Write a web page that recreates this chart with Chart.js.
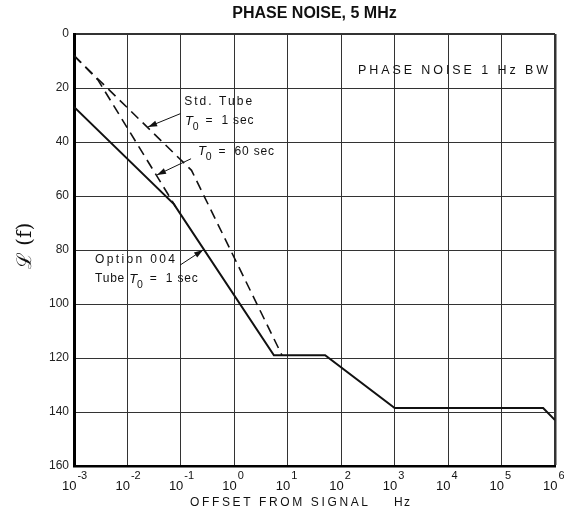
<!DOCTYPE html>
<html>
<head>
<meta charset="utf-8">
<script src="https://cdn.jsdelivr.net/npm/chart.js@4"></script>
<style>
  html, body { margin: 0; padding: 0; background: #fff; }
</style>
</head>
<body>
<canvas id="phaseChart" width="564" height="519"></canvas>
<script>
// decade ticks on the offset axis, 20 dB steps on the noise axis
const xTicks = [1e-3, 1e-2, 1e-1, 1, 10, 100, 1e3, 1e4, 1e5, 1e6];
const yTicks = [0, 20, 40, 60, 80, 100, 120, 140, 160];

// Option 004 tube, T0 = 1 sec (solid)
const optFreq = [0.001, 0.074, 5.5, 50, 1000, 600000, 1000000];
const optNoise = [27, 63, 119, 119, 138.5, 138.5, 143];

// Std. tube, T0 = 1 sec (dashed, upper)
const stdFreq = [0.001, 0.158, 7.8];
const stdNoise = [8, 50.5, 119];

// T0 = 60 sec (dashed, lower)
const t60Freq = [0.001, 0.0028, 0.034, 0.08];
const t60Noise = [8, 17, 52, 64];

const toPoints = (xs, ys) => xs.map((v, i) => ({ x: v, y: ys[i] }));

const FONT = '"Liberation Sans", Arial, sans-serif';

// text whose letters are spread out to cover a given width
function spreadText(ctx, str, x, y, width) {
  ctx.letterSpacing = '0px';
  const natural = ctx.measureText(str).width;
  const gap = Math.max(0, (width - natural) / (str.length - 1));
  ctx.letterSpacing = gap + 'px';
  ctx.textAlign = 'left';
  ctx.fillText(str, x, y);
  ctx.letterSpacing = '0px';
}

// optional prefix, italic "T" with subscript 0, then the rest
function tauText(ctx, x, y, before, after) {
  ctx.textAlign = 'left';
  ctx.textBaseline = 'middle';
  ctx.letterSpacing = '0.8px';
  ctx.font = '12px ' + FONT;
  ctx.fillText(before, x, y);
  x += ctx.measureText(before).width;
  ctx.font = 'italic 13px ' + FONT;
  ctx.fillText('T', x, y);
  x += ctx.measureText('T').width - 1;
  ctx.font = '10.5px ' + FONT;
  ctx.fillText('0', x, y + 6);
  x += ctx.measureText('0').width + 2;
  ctx.font = '12px ' + FONT;
  ctx.fillText(after, x, y);
  ctx.letterSpacing = '0px';
}

function arrow(ctx, x1, y1, x2, y2) {
  ctx.beginPath();
  ctx.moveTo(x1, y1);
  ctx.lineTo(x2, y2);
  ctx.stroke();
  const a = Math.atan2(y2 - y1, x2 - x1);
  const len = 9, half = 3;
  ctx.beginPath();
  ctx.moveTo(x2, y2);
  ctx.lineTo(x2 - len * Math.cos(a) + half * Math.sin(a), y2 - len * Math.sin(a) - half * Math.cos(a));
  ctx.lineTo(x2 - len * Math.cos(a) - half * Math.sin(a), y2 - len * Math.sin(a) + half * Math.cos(a));
  ctx.closePath();
  ctx.fill();
}

const labelsPlugin = {
  id: 'phaseLabels',
  afterDraw(chart) {
    const { ctx, chartArea, scales } = chart;
    const sx = v => scales.x.getPixelForValue(v);
    const sy = v => scales.y.getPixelForValue(v);
    ctx.save();
    ctx.fillStyle = '#111';
    ctx.strokeStyle = '#111';

    // title
    ctx.font = 'bold 16px ' + FONT;
    ctx.textBaseline = 'middle';
    ctx.textAlign = 'center';
    ctx.fillText('PHASE NOISE, 5 MHz', (chartArea.left + chartArea.right) / 2, 14);

    // x tick labels with superscript exponents
    xTicks.forEach(v => {
      const exp = String(Math.round(Math.log10(v)));
      const left = sx(v) - 12;
      ctx.textAlign = 'left';
      ctx.textBaseline = 'alphabetic';
      ctx.font = '13px ' + FONT;
      ctx.fillText('10', left, 490);
      const wBase = ctx.measureText('10').width;
      ctx.font = '11px ' + FONT;
      ctx.fillText(exp, left + wBase + 1, 479);
    });

    // x axis title
    ctx.font = '12px ' + FONT;
    ctx.textBaseline = 'middle';
    spreadText(ctx, 'OFFSET FROM SIGNAL', 190, 503, 178);
    spreadText(ctx, 'Hz', 394, 503, 16);

    // y axis title
    ctx.save();
    ctx.translate(26, 246);
    ctx.rotate(-Math.PI / 2);
    ctx.textAlign = 'center';
    ctx.font = '20px "DejaVu Serif", serif';
    ctx.fillText('\u2112 (f)', 0, 0);
    ctx.restore();

    // bandwidth note
    ctx.font = '12.5px ' + FONT;
    ctx.textBaseline = 'middle';
    spreadText(ctx, 'PHASE NOISE 1 Hz BW', sx(7.4e5) - 190, sy(13.7), 190);

    // curve annotations
    ctx.font = '12px ' + FONT;
    ctx.textBaseline = 'middle';
    spreadText(ctx, 'Std. Tube', sx(0.115), sy(25.2), 68);
    tauText(ctx, sx(0.119), sy(32.2), '', ' =  1 sec');
    tauText(ctx, sx(0.209), sy(43.5), '', ' =  60 sec');
    ctx.font = '12px ' + FONT;
    spreadText(ctx, 'Option 004', sx(0.00247), sy(83.5), 80);
    tauText(ctx, sx(0.00247), sy(90.8), 'Tube ', ' =  1 sec');

    ctx.lineWidth = 1;
    arrow(ctx, sx(0.098), sy(29.5), sx(0.0243), sy(34.4));
    arrow(ctx, sx(0.155), sy(46.2), sx(0.0357), sy(52.2));
    arrow(ctx, sx(0.0964), sy(85.6), sx(0.26), sy(80));
    ctx.restore();
  }
};

new Chart(document.getElementById('phaseChart'), {
  type: 'line',
  data: {
    datasets: [
      {
        label: 'Option 004 Tube T0 = 1 sec',
        data: toPoints(optFreq, optNoise),
        borderColor: '#111',
        borderWidth: 2,
        pointRadius: 0,
        tension: 0
      },
      {
        label: 'Std. Tube T0 = 1 sec',
        data: toPoints(stdFreq, stdNoise),
        borderColor: '#111',
        borderWidth: 1.6,
        borderDash: [10, 6],
        pointRadius: 0,
        tension: 0
      },
      {
        label: 'T0 = 60 sec',
        data: toPoints(t60Freq, t60Noise),
        borderColor: '#111',
        borderWidth: 1.6,
        borderDash: [10, 6],
        pointRadius: 0,
        tension: 0
      }
    ]
  },
  options: {
    responsive: false,
    animation: false,
    layout: { padding: { top: 34, right: 9, left: 0, bottom: 0 } },
    plugins: { legend: { display: false }, tooltip: { enabled: false } },
    scales: {
      x: {
        type: 'logarithmic',
        min: 1e-3,
        max: 1e6,
        afterBuildTicks: s => { s.ticks = xTicks.map(v => ({ value: v })); },
        afterFit: s => { s.height = 53; },
        ticks: { display: false },
        grid: {
          color: '#333',
          lineWidth: c => (c.tick && c.tick.value === 1e6 ? 2.5 : 1),
          drawTicks: false
        },
        border: { color: '#000', width: 2.5 }
      },
      y: {
        type: 'linear',
        reverse: true,
        min: 0,
        max: 160,
        afterBuildTicks: s => { s.ticks = yTicks.map(v => ({ value: v })); },
        afterFit: s => { s.width = 74; },
        ticks: {
          padding: 5,
          color: '#222',
          font: { family: 'Liberation Sans', size: 12 }
        },
        grid: {
          color: '#333',
          lineWidth: c => (c.tick && c.tick.value === 0 ? 2 : 1),
          drawTicks: false
        },
        border: { color: '#000', width: 3 }
      }
    }
  },
  plugins: [labelsPlugin]
});
</script>
</body>
</html>
